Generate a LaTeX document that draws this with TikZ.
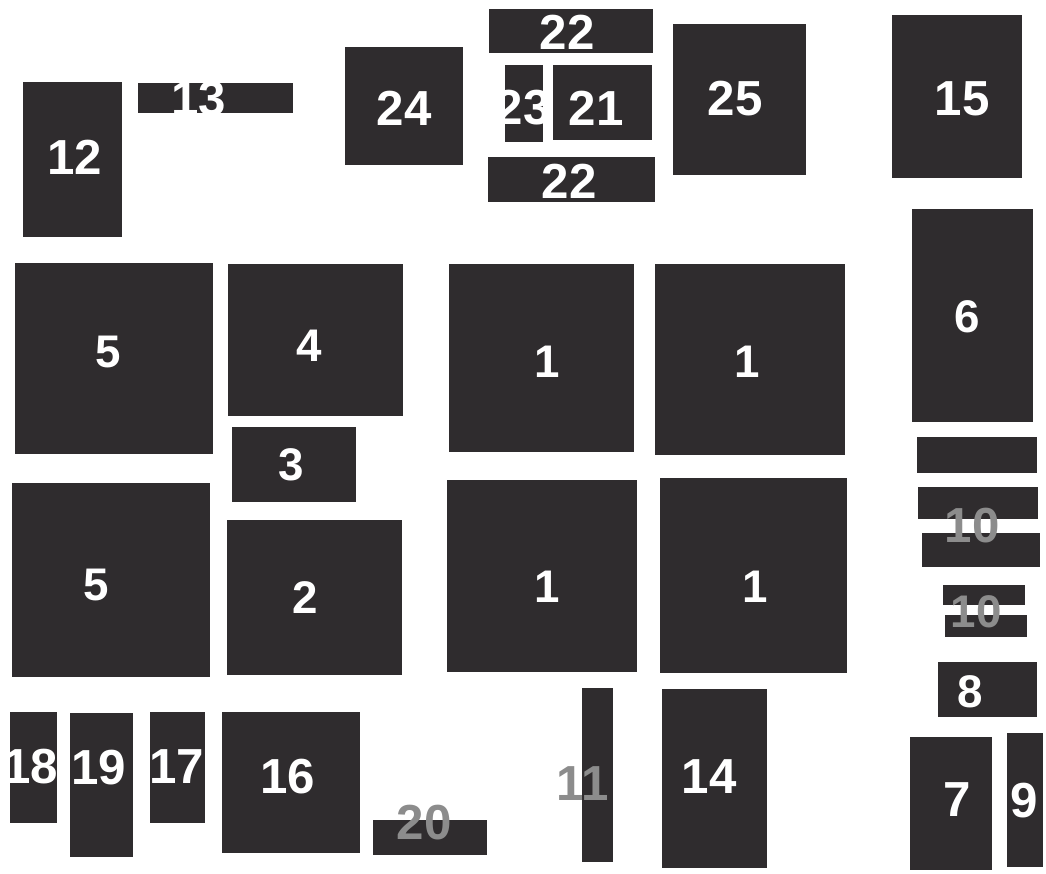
\documentclass[tikz,border=0pt]{standalone}
\usepackage{fontspec}
\setmainfont{Liberation Sans}
\usepackage{tikz}
\usepackage{xcolor}
\definecolor{felt}{RGB}{47,44,46}
\definecolor{labgray}{RGB}{140,140,140}

\begin{document}
\begin{tikzpicture}[x=0.01cm,y=-0.01cm,
  font=\bfseries\fontsize{14}{14}\selectfont,
  piece/.style={fill=felt},
  num/.style={text=white,inner sep=0pt},
  dim/.style={text=labgray,inner sep=0pt},
  mid/.style={font=\bfseries\fontsize{13}{13}\selectfont}]
\useasboundingbox (0,0) rectangle (1046,873);
% top row
\fill[piece] (23,82) rectangle (122,237);
\fill[piece] (138,83) rectangle (293,113);
\fill[piece] (345,47) rectangle (463,165);
\fill[piece] (489,9) rectangle (653,53);
\fill[piece] (505,65) rectangle (543,142);
\fill[piece] (553,65) rectangle (652,140);
\fill[piece] (488,157) rectangle (655,202);
\fill[piece] (673,24) rectangle (806,175);
\fill[piece] (892,15) rectangle (1022,178);
% middle block
\fill[piece] (15,263) rectangle (213,454);
\fill[piece] (228,264) rectangle (403,416);
\fill[piece] (232,427) rectangle (356,502);
\fill[piece] (12,483) rectangle (210,677);
\fill[piece] (227,520) rectangle (402,675);
\fill[piece] (449,264) rectangle (634,452);
\fill[piece] (655,264) rectangle (845,455);
\fill[piece] (447,480) rectangle (637,672);
\fill[piece] (660,478) rectangle (847,673);
% right column
\fill[piece] (912,209) rectangle (1033,422);
\fill[piece] (917,437) rectangle (1037,473);
\fill[piece] (918,487) rectangle (1038,519);
\fill[piece] (922,533) rectangle (1040,567);
\fill[piece] (943,585) rectangle (1025,605);
\fill[piece] (945,615) rectangle (1027,637);
\fill[piece] (938,662) rectangle (1037,717);
\fill[piece] (910,737) rectangle (992,870);
\fill[piece] (1007,733) rectangle (1043,867);
% bottom row
\fill[piece] (10,712) rectangle (57,823);
\fill[piece] (70,713) rectangle (133,857);
\fill[piece] (150,712) rectangle (205,823);
\fill[piece] (222,712) rectangle (360,853);
\fill[piece] (373,820) rectangle (487,855);
\fill[piece] (582,688) rectangle (613,862);
\fill[piece] (662,689) rectangle (767,868);
% labels
\node[num] (n12) at (75,157) {12};
\node[num] (n13) at (199,99) {13};
\node[num] (n24) at (404,108) {24};
\node[num] (n22a) at (567,32) {22};
\node[num] (n23) at (523,108) {23};
\node[num] (n21) at (596,108) {21};
\node[num] (n22b) at (569,181) {22};
\node[num] (n25) at (735,99) {25};
\node[num] (n15) at (962,99) {15};
\node[num,mid] (n5a) at (108,352) {5};
\node[num,mid] (n4) at (309,346) {4};
\node[num,mid] (n3) at (291,465) {3};
\node[num,mid] (n5b) at (96,585) {5};
\node[num,mid] (n2) at (305,598) {2};
\node[num,mid] (n1a) at (547,362) {1};
\node[num,mid] (n1b) at (747,362) {1};
\node[num,mid] (n1c) at (547,587) {1};
\node[num,mid] (n1d) at (755,587) {1};
\node[num,mid] (n6) at (967,317) {6};
\node[dim] (n10a) at (972,526) {10};
\node[dim,mid] (n10b) at (976,612) {10};
\node[num,mid] (n8) at (970,692) {8};
\node[num] (n7) at (957,800) {7};
\node[num] (n9) at (1024,801) {9};
\node[num] (n18) at (31,767) {18};
\node[num] (n19) at (99,768) {19};
\node[num] (n17) at (177,767) {17};
\node[num] (n16) at (288,777) {16};
\node[dim] (n20) at (424,823) {20};
\node[dim] (n11) at (583,784) {11};
\node[num] (n14) at (709,777) {14};
\end{tikzpicture}
\end{document}
